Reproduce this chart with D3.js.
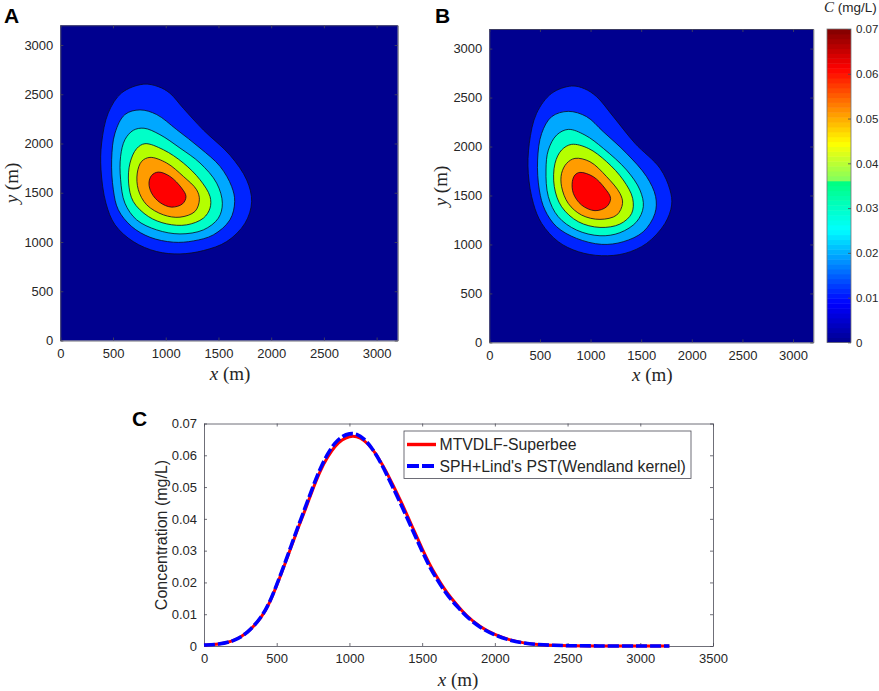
<!DOCTYPE html>
<html>
<head>
<meta charset="utf-8">
<script src="https://cdn.jsdelivr.net/npm/d3@7"></script>
<style>
	html, body { margin: 0; padding: 0; background: #fff; }
	svg { display: block; }
	text { font-family: "Liberation Sans", Arial, sans-serif; fill: #262626; }
	.math { font-family: "Liberation Serif", "DejaVu Serif", serif; }
	.axis path, .axis line { stroke: #4a4a55; stroke-width: 0.8; }
</style>
</head>
<body>
<svg id="chart" width="879" height="691"></svg>
<script>
// contour levels (mg/L), lowest first
var levels = [0.01, 0.02, 0.03, 0.04, 0.05, 0.06];
var levelColors = ["#0024ff", "#00a8ff", "#00ffc8", "#b4ff00", "#ff9c00", "#ff0000"];
var backgroundColor = "#00008f";

// contour outlines, [x, y] in metres
var contoursA = [
	[[787,2602],[930,2577],[1040,2510],[1167,2357],[1357,2137],[1610,1881],[1768,1630],[1815,1409],[1752,1191],[1578,1004],[1357,913],[1135,879],[914,903],[692,1004],[519,1174],[433,1394],[386,1734],[392,2005],[455,2311],[582,2514]],
	[[756,2341],[914,2294],[1104,2141],[1325,1954],[1515,1768],[1625,1564],[1654,1411],[1609,1225],[1451,1072],[1262,1011],[1072,998],[851,1048],[677,1157],[550,1327],[503,1530],[487,1836],[519,2107],[613,2294]],
	[[794,2155],[945,2090],[1135,1954],[1325,1802],[1483,1598],[1537,1394],[1499,1242],[1357,1123],[1135,1082],[914,1123],[724,1225],[613,1394],[572,1632],[572,1870],[613,2039],[692,2134]],
	[[803,1998],[977,1937],[1167,1802],[1325,1632],[1420,1462],[1420,1344],[1357,1242],[1198,1174],[1009,1184],[835,1259],[692,1411],[648,1598],[661,1802],[724,1948]],
	[[851,1859],[1009,1802],[1167,1666],[1293,1530],[1319,1428],[1277,1310],[1135,1252],[977,1276],[819,1378],[740,1530],[730,1700],[772,1819]],
	[[930,1710],[1040,1666],[1151,1547],[1192,1462],[1160,1388],[1056,1354],[945,1401],[866,1496],[841,1598],[866,1676]]
];

// contour outlines
var contoursB = [
	[[813,2618],[940,2590],[1060,2509],[1225,2305],[1439,2033],[1686,1778],[1785,1556],[1801,1403],[1735,1215],[1554,1011],[1340,909],[1109,885],[879,926],[681,1028],[517,1215],[435,1420],[385,1726],[395,2032],[467,2339],[616,2543]],
	[[780,2359],[961,2305],[1126,2151],[1356,1930],[1554,1692],[1643,1488],[1636,1317],[1521,1130],[1323,1028],[1109,1001],[862,1062],[665,1181],[550,1351],[494,1556],[477,1862],[517,2134],[616,2305]],
	[[780,2175],[945,2117],[1126,1981],[1356,1760],[1488,1556],[1521,1385],[1455,1232],[1290,1120],[1093,1089],[862,1147],[681,1283],[583,1488],[560,1760],[583,1964],[665,2117]],
	[[813,2022],[978,1981],[1159,1845],[1323,1658],[1416,1471],[1406,1317],[1290,1208],[1093,1174],[879,1232],[714,1385],[642,1590],[649,1828],[714,1964]],
	[[846,1879],[994,1845],[1159,1692],[1290,1522],[1316,1419],[1258,1300],[1093,1256],[912,1300],[780,1419],[714,1590],[714,1726],[764,1828]],
	[[895,1736],[1027,1692],[1142,1573],[1198,1471],[1159,1385],[1044,1345],[912,1402],[830,1522],[820,1641],[846,1709]]
];

// panel C
var profileX = [0,100,200,300,400,450,500,550,600,650,700,750,800,850,900,950,1000,1050,1100,1150,1200,1250,1300,1350,1400,1450,1500,1550,1600,1650,1700,1750,1800,1900,2000,2100,2200,2300,2400,2500,2700,3000,3200];
var superbee = [0.0003,0.0005,0.0014,0.0040,0.0092,0.0134,0.0190,0.0250,0.0312,0.0375,0.0433,0.0496,0.0553,0.0595,0.0629,0.0650,0.0660,0.0660,0.0648,0.0625,0.0592,0.0552,0.0506,0.0459,0.0409,0.0357,0.0306,0.0258,0.0218,0.0181,0.0150,0.0124,0.0097,0.0059,0.0035,0.0019,0.0009,0.0004,0.0002,0.0001,0.0,0.0,0.0];
var sph = [0.0003,0.0005,0.0014,0.0040,0.0093,0.0136,0.0192,0.0253,0.0316,0.0380,0.0440,0.0503,0.0560,0.0605,0.0640,0.0660,0.0669,0.0668,0.0653,0.0626,0.0590,0.0546,0.0498,0.0450,0.0400,0.0348,0.0298,0.0250,0.0211,0.0175,0.0145,0.0120,0.0094,0.0057,0.0034,0.0018,0.0009,0.0004,0.0002,0.0001,0.0,0.0,0.0];
var seriesNames = ["MTVDLF-Superbee", "SPH+Lind's PST(Wendland kernel)"];

var mapTicks = [0,500,1000,1500,2000,2500,3000];
var barTicks = [0,0.01,0.02,0.03,0.04,0.05,0.06,0.07];
var profileXTicks = [0,500,1000,1500,2000,2500,3000,3500];

// colorbar stops, close to jet but with the step seen just under 0.04
var barColors = ["#00008f","#0000ff","#00ffff","#00ff80","#80ff60","#ffff00","#ff0000","#800000"];
var barValues = [0,0.00875,0.0252,0.0359,0.0361,0.0445,0.0612,0.07];
var barSteps = d3.range(64);

var svg = d3.select("#chart");

function fmt(d) { return String(d); }

function xLabel(g, cx, y) {
	var t = g.append("text").attr("class", "math").attr("x", cx).attr("y", y)
		.attr("text-anchor", "middle").attr("font-size", 19);
	t.append("tspan").attr("font-style", "italic").text("x");
	t.append("tspan").text(" (m)");
}

function yLabel(g, x, cy) {
	var t = g.append("text").attr("class", "math")
		.attr("transform", "translate(" + x + "," + cy + ") rotate(-90)")
		.attr("text-anchor", "middle").attr("font-size", 19);
	t.append("tspan").attr("font-style", "italic").text("y");
	t.append("tspan").text(" (m)");
}

function panelLetter(s, x, y) {
	svg.append("text").attr("x", x).attr("y", y)
		.attr("font-size", 21).attr("font-weight", "bold")
		.style("fill", "#000").text(s);
}

// frame with inward ticks on all four sides
function frame(g, x, y, xTicks, yTicks, yFmt) {
	var r = x.range(), b = y.range();
	g.append("g").attr("class", "axis").attr("transform", "translate(0," + b[0] + ")")
		.call(d3.axisBottom(x).tickValues(xTicks).tickFormat(fmt).tickSizeInner(-3).tickSizeOuter(0).tickPadding(8));
	g.append("g").attr("class", "axis").attr("transform", "translate(0," + b[1] + ")")
		.call(d3.axisTop(x).tickValues(xTicks).tickFormat("").tickSizeInner(-3).tickSizeOuter(0));
	g.append("g").attr("class", "axis").attr("transform", "translate(" + r[0] + ",0)")
		.call(d3.axisLeft(y).tickValues(yTicks).tickFormat(yFmt).tickSizeInner(-3).tickSizeOuter(0).tickPadding(7));
	g.append("g").attr("class", "axis").attr("transform", "translate(" + r[1] + ",0)")
		.call(d3.axisRight(y).tickValues(yTicks).tickFormat("").tickSizeInner(-3).tickSizeOuter(0));
	g.selectAll(".axis text").attr("font-size", 13);
}

function contourPanel(box, outlines) {
	var g = svg.append("g");
	var x = d3.scaleLinear().domain([0, 3200]).range([box.left, box.right]);
	var y = d3.scaleLinear().domain([0, 3200]).range([box.bottom, box.top]);

	g.append("rect")
		.attr("x", box.left).attr("y", box.top)
		.attr("width", box.right - box.left).attr("height", box.bottom - box.top)
		.attr("fill", backgroundColor);

	var line = d3.line()
		.x(function(d) { return x(d[0]); })
		.y(function(d) { return y(d[1]); })
		.curve(d3.curveCatmullRomClosed.alpha(0.5));

	g.selectAll("path.level").data(outlines).enter().append("path")
		.attr("class", "level")
		.attr("d", line)
		.attr("fill", function(d, i) { return levelColors[i]; })
		.attr("stroke", "#0a0a20")
		.attr("stroke-width", 0.8);

	frame(g, x, y, mapTicks, mapTicks, fmt);
	xLabel(g, (box.left + box.right) / 2 + 1, box.bottom + 39);
	return g;
}

var gA = contourPanel({left: 60.3, right: 397.7, top: 25.3, bottom: 340.5}, contoursA);
yLabel(gA, 18, 183);
var gB = contourPanel({left: 489.3, right: 813.3, top: 29, bottom: 342.4}, contoursB);
yLabel(gB, 447, 186);

panelLetter("A", 4, 23);
panelLetter("B", 435, 23);
panelLetter("C", 132, 426);

//************ COLORBAR ************

var barY = d3.scaleLinear().domain([0, 0.07]).range([342.4, 29]);
var barColor = d3.scaleLinear().domain(barValues).range(barColors).clamp(true);
var gBar = svg.append("g");

gBar.selectAll("rect").data(barSteps).enter().append("rect")
	.attr("x", 827).attr("width", 24)
	.attr("y", function(d) { return barY((d + 1) / 64 * 0.07); })
	.attr("height", function(d) { return barY(d / 64 * 0.07) - barY((d + 1) / 64 * 0.07) + 0.5; })
	.attr("fill", function(d) { return barColor((d + 0.5) / 64 * 0.07); });

gBar.append("rect").attr("x", 827).attr("y", 29).attr("width", 24).attr("height", 313.4)
	.attr("fill", "none").attr("stroke", "#777").attr("stroke-width", 0.8);

var barAxis = gBar.append("g").attr("class", "axis").attr("transform", "translate(851,0)")
	.call(d3.axisRight(barY).tickValues(barTicks).tickFormat(fmt).tickSizeInner(-3).tickSizeOuter(0).tickPadding(5));
barAxis.select("path").remove();
barAxis.selectAll("text").attr("font-size", 11.5);

var barTitle = gBar.append("text").attr("x", 824).attr("y", 12).attr("font-size", 13.5);
barTitle.append("tspan").attr("class", "math").attr("font-style", "italic").attr("font-size", 15).text("C");
barTitle.append("tspan").text(" (mg/L)");

//************ PROFILE ************

var px = d3.scaleLinear().domain([0, 3500]).range([204, 713]);
var py = d3.scaleLinear().domain([0, 0.07]).range([646, 423.5]);
var gC = svg.append("g");

frame(gC, px, py, profileXTicks, barTicks, fmt);
xLabel(gC, 458, 686);

gC.append("text")
	.attr("transform", "translate(167,535) rotate(-90)")
	.attr("text-anchor", "middle").attr("font-size", 16)
	.text("Concentration (mg/L)");

var curve = d3.line()
	.x(function(d) { return px(d[0]); })
	.y(function(d) { return py(d[1]); })
	.curve(d3.curveBasis);

gC.append("path").datum(d3.zip(profileX, superbee))
	.attr("d", curve).attr("fill", "none").attr("stroke", "#ff0000").attr("stroke-width", 3);
gC.append("path").datum(d3.zip(profileX, sph))
	.attr("d", curve).attr("fill", "none").attr("stroke", "#0000ff").attr("stroke-width", 3.6)
	.attr("stroke-dasharray", "11,3");

var legend = gC.append("g");
legend.append("rect").attr("x", 404).attr("y", 431).attr("width", 287).attr("height", 47.5)
	.attr("fill", "#fff").attr("stroke", "#4a4a55").attr("stroke-width", 0.8);

var legendRow = d3.scaleOrdinal().domain(seriesNames).range([444.5, 466]);
legend.selectAll("line").data(seriesNames).enter().append("line")
	.attr("x1", 407).attr("x2", 436)
	.attr("y1", function(d) { return legendRow(d); })
	.attr("y2", function(d) { return legendRow(d); })
	.attr("stroke", function(d, i) { return i ? "#0000ff" : "#ff0000"; })
	.attr("stroke-width", function(d, i) { return i ? 3.8 : 3.4; })
	.attr("stroke-dasharray", function(d, i) { return i ? "12,3" : null; });
legend.selectAll("text").data(seriesNames).enter().append("text")
	.attr("x", 439.5)
	.attr("y", function(d) { return legendRow(d) + 5.5; })
	.attr("font-size", 15.8)
	.text(function(d) { return d; });
</script>
</body>
</html>
